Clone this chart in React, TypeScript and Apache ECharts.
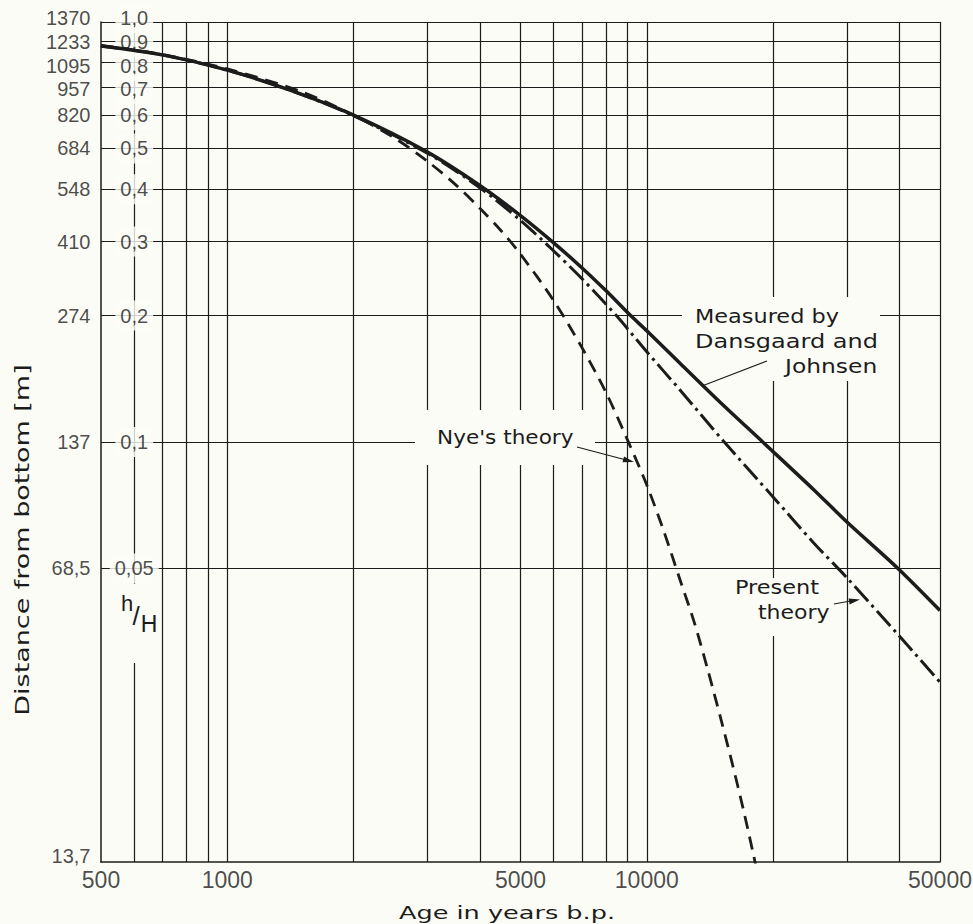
import React, { useEffect, useRef } from 'react';
import * as echarts from 'echarts';

const BG = '#fcfcf7';
const INK = '#1c1c1c';
const NUM_FONT = '"Liberation Sans", Arial, sans-serif';
const TXT_FONT = '"DejaVu Sans", sans-serif';

// axis tick labels
const ageTicks = [500, 1000, 5000, 10000, 50000];
const ageTickLabels = ['500', '1000', '5000', '10000', '50000'];
const ratioTicks = [1.0, 0.9, 0.8, 0.7, 0.6, 0.5, 0.4, 0.3, 0.2, 0.1, 0.05];
const ratioLabels = ['1,0', '0,9', '0,8', '0,7', '0,6', '0,5', '0,4', '0,3', '0,2', '0,1', '0,05'];
const meterTicks = [1.0, 0.9, 0.8, 0.7, 0.6, 0.5, 0.4, 0.3, 0.2, 0.1, 0.05, 0.01];
const meterLabels = ['1370', '1233', '1095', '957', '820', '684', '548', '410', '274', '137', '68,5', '13,7'];

// grid lines
const ageGrid = [600, 700, 800, 900, 1000, 2000, 3000, 4000, 5000, 6000, 7000, 8000, 9000, 10000, 20000, 30000, 40000, 50000];
const ratioGrid = [0.05, 0.1, 0.2, 0.3, 0.4, 0.5, 0.6, 0.7, 0.8, 0.9, 1.0];

// Measured by Dansgaard and Johnsen
const measuredAges = [500, 700, 1000, 1400, 2000, 3000, 4000, 5000, 6000, 7000, 8000, 9150, 10000, 12000, 15000, 18900, 25000, 30000, 39700, 50000];
const measuredRatio = [0.877, 0.835, 0.768, 0.69, 0.6, 0.49, 0.408, 0.346, 0.298, 0.26, 0.229, 0.2, 0.184, 0.154, 0.124, 0.1, 0.077, 0.0645, 0.05, 0.0397];

// Present theory
const presentAges = [500, 700, 1000, 1400, 2000, 3000, 4000, 5000, 6000, 7000, 8460, 10000, 12000, 15300, 20000, 25000, 30000, 40000, 50000];
const presentRatio = [0.877, 0.835, 0.768, 0.69, 0.598, 0.487, 0.403, 0.337, 0.285, 0.245, 0.2, 0.164, 0.133, 0.1, 0.074, 0.0575, 0.0475, 0.0345, 0.0268];

// Nye's theory
const nyeAges = [500, 700, 1000, 1500, 2000, 2500, 3000, 3500, 4000, 4500, 5000, 6000, 7000, 8000, 9000, 10000, 11000, 12000, 13000, 14000, 15000, 16000, 17000, 18000, 18600];
const nyeRatio = [0.88, 0.837, 0.773, 0.683, 0.6, 0.53, 0.466, 0.41, 0.36, 0.318, 0.28, 0.217, 0.168, 0.131, 0.101, 0.079, 0.061, 0.047, 0.037, 0.0285, 0.022, 0.0171, 0.0133, 0.0103, 0.0088];

const pairs = (xs: number[], ys: number[]) => xs.map((x, i) => [x, ys[i]]);

// small vertical nudges of the crowded top labels (pixels)
const labelNudge = (v: number) =>
  v === 1 ? -4 : v === 0.9 ? 1 : v === 0.8 ? 3 : v === 0.7 ? 2 : v === 0.01 ? -6 : 0;

function buildOption(): any {
  const txt = (text: string, x: number, y: number, extra: any = {}) => ({
    type: 'text',
    x,
    y,
    z: 16,
    scaleX: extra.scaleX ?? 1.12,
    rotation: extra.rotation ?? 0,
    silent: true,
    style: {
      text,
      fontSize: extra.fontSize ?? 20,
      fontFamily: extra.fontFamily ?? TXT_FONT,
      fill: INK,
      textAlign: extra.align ?? 'left',
      textVerticalAlign: 'middle',
      verticalAlign: 'middle',
    },
  });
  const rect = (x: number, y: number, w: number, h: number) => ({
    type: 'rect',
    z: 15,
    silent: true,
    shape: { x, y, width: w, height: h },
    style: { fill: BG },
  });
  const seg = (pts: number[][]) => ({
    type: 'polyline',
    z: 16,
    silent: true,
    shape: { points: pts },
    style: { stroke: INK, lineWidth: 1.2, fill: null },
  });
  const tri = (pts: number[][]) => ({
    type: 'polygon',
    z: 16,
    silent: true,
    shape: { points: pts },
    style: { fill: INK },
  });

  const numLabel = {
    fontFamily: NUM_FONT,
    fontSize: 20,
    lineHeight: 20,
    color: INK,
  };

  return {
    animation: false,
    backgroundColor: BG,
    grid: { left: 101, right: 33, top: 22, bottom: 62, containLabel: false, outerBoundsMode: 'none' },
    xAxis: {
      type: 'log',
      logBase: 10,
      min: 500,
      max: 50000,
      axisLine: { show: true, lineStyle: { color: INK, width: 1.5 } },
      axisTick: { show: false },
      axisLabel: { show: false },
      splitLine: { show: false },
    },
    yAxis: {
      type: 'log',
      logBase: 10,
      min: 0.01,
      max: 1,
      axisLine: { show: true, lineStyle: { color: INK, width: 1.5 } },
      axisTick: { show: false },
      axisLabel: { show: false },
      splitLine: { show: false },
    },
    series: [
      {
        type: 'line',
        name: 'grid',
        data: [],
        z: 1,
        silent: true,
        markLine: {
          silent: true,
          symbol: ['none', 'none'],
          label: { show: false },
          emphasis: { disabled: true },
          lineStyle: { color: INK, width: 1.2, type: 'solid' },
          data: [
            ...ageGrid.map((v) => ({ xAxis: v })),
            ...ratioGrid.map((v) => ({ yAxis: v })),
          ],
        },
      },
      {
        type: 'scatter',
        name: 'meters',
        z: 10,
        silent: true,
        clip: false,
        symbolSize: 1,
        itemStyle: { color: 'rgba(0,0,0,0)' },
        data: meterTicks.map((v, i) => ({
          value: [500, v, meterLabels[i]],
          label: { offset: [0, labelNudge(v)] },
        })),
        label: {
          show: true,
          position: 'left',
          distance: 10,
          formatter: (p: any) => p.value[2],
          ...numLabel,
        },
      },
      {
        type: 'scatter',
        name: 'ratio',
        z: 10,
        silent: true,
        clip: false,
        symbolSize: 1,
        itemStyle: { color: 'rgba(0,0,0,0)' },
        data: ratioTicks.map((v, i) => ({
          value: [600, v, ratioLabels[i]],
          label: { offset: [0, labelNudge(v)] },
        })),
        label: {
          show: true,
          position: 'inside',
          formatter: (p: any) => p.value[2],
          ...numLabel,
          backgroundColor: BG,
          padding: [5, 5, 5, 5],
        },
      },
      {
        type: 'scatter',
        name: 'ages',
        z: 10,
        silent: true,
        clip: false,
        symbolSize: 1,
        itemStyle: { color: 'rgba(0,0,0,0)' },
        data: ageTicks.map((v, i) => [v, 0.01, ageTickLabels[i]]),
        label: {
          show: true,
          position: 'bottom',
          distance: 6,
          formatter: (p: any) => p.value[2],
          fontFamily: NUM_FONT,
          fontSize: 23,
          color: INK,
        },
      },
      {
        type: 'line',
        name: 'Measured by Dansgaard and Johnsen',
        data: pairs(measuredAges, measuredRatio),
        symbol: 'none',
        smooth: 0.3,
        z: 20,
        silent: true,
        lineStyle: { color: INK, width: 3.5 },
      },
      {
        type: 'line',
        name: 'Present theory',
        data: pairs(presentAges, presentRatio),
        symbol: 'none',
        smooth: 0.3,
        z: 20,
        silent: true,
        lineStyle: { color: INK, width: 3, type: [20, 5, 3, 5], cap: 'butt' },
      },
      {
        type: 'line',
        name: "Nye's theory",
        data: pairs(nyeAges, nyeRatio),
        symbol: 'none',
        smooth: 0.3,
        z: 20,
        silent: true,
        lineStyle: { color: INK, width: 2.8, type: [13, 8], cap: 'butt' },
      },
    ],
    graphic: {
      elements: [
        // h/H marker in the ratio column
        rect(119, 584, 34, 79),
        txt('h', 127, 603, { fontFamily: NUM_FONT, fontSize: 22, scaleX: 1, align: 'center' }),
        txt('/', 136, 616, { fontFamily: NUM_FONT, fontSize: 26, scaleX: 1, align: 'center' }),
        txt('H', 149, 624, { fontFamily: NUM_FONT, fontSize: 23, scaleX: 1, align: 'center' }),
        // Measured annotation
        rect(682, 297, 198, 56),
        rect(770, 353, 110, 28),
        txt('Measured by', 695, 316),
        txt('Dansgaard and', 695, 341, { scaleX: 1.2 }),
        txt('Johnsen', 785, 366, { scaleX: 1.17 }),
        seg([[767, 361], [702, 386]]),
        // Nye's theory annotation
        rect(415, 410, 180, 55),
        txt("Nye's theory", 437, 437, { scaleX: 1.08 }),
        seg([[577, 447], [630, 461]]),
        tri([[634, 462], [624.1, 456.5], [622.5, 462.3]]),
        // Present theory annotation
        rect(726, 578, 112, 58),
        txt('Present', 735, 587),
        txt('theory', 758, 612, { scaleX: 1.1 }),
        seg([[834, 604], [856, 600]]),
        tri([[860, 599.5], [849.6, 604.6], [848.6, 598.6]]),
        // axis titles
        txt('Distance from bottom [m]', 22, 540, { fontSize: 19, scaleX: 1.42, rotation: Math.PI / 2, align: 'center' }),
        txt('Age in years b.p.', 507, 912, { fontSize: 18, scaleX: 1.42, align: 'center' }),
      ],
    },
  };
}

export default function App() {
  const ref = useRef<HTMLDivElement>(null);
  useEffect(() => {
    if (!ref.current) return;
    const chart = echarts.init(ref.current, null, { renderer: 'svg' });
    chart.setOption(buildOption());
    return () => chart.dispose();
  }, []);
  return (
    <div
      ref={ref}
      style={{ position: 'fixed', left: 0, top: 0, width: 973, height: 924, background: BG }}
    />
  );
}
